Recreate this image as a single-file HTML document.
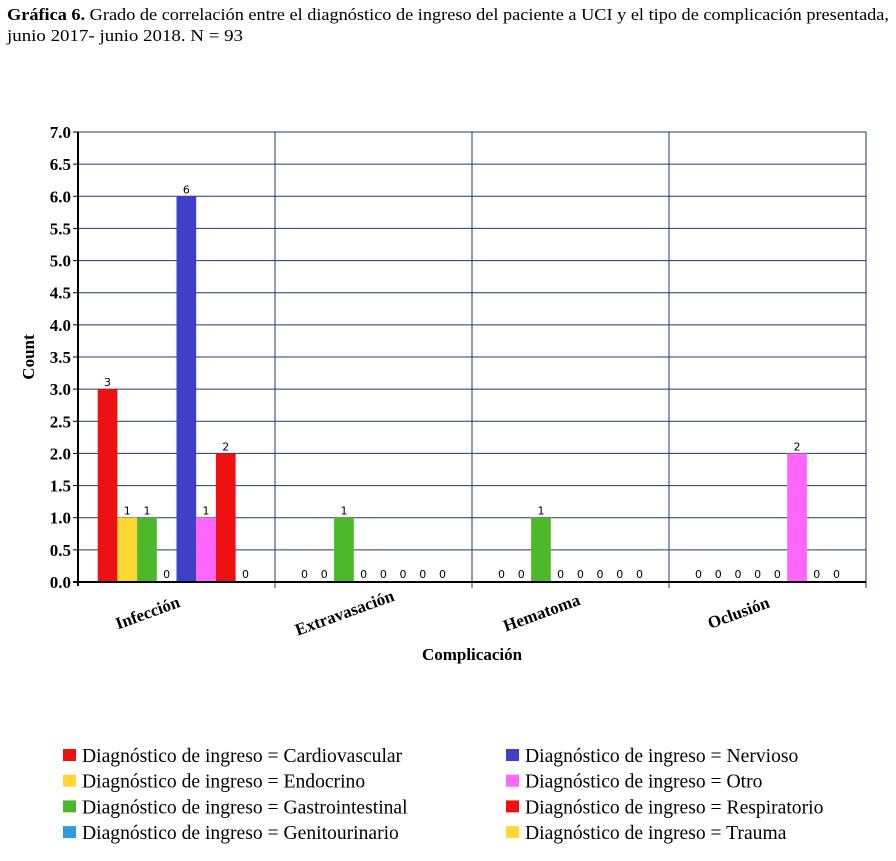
<!DOCTYPE html>
<html><head><meta charset="utf-8"><style>
body{margin:0;background:#fff;}
svg{display:block;font-family:"Liberation Serif",serif;}
</style></head><body>
<svg width="896" height="861" viewBox="0 0 896 861">
<text x="7" y="20" font-size="17" textLength="882" lengthAdjust="spacingAndGlyphs"><tspan font-weight="bold">Gráfica 6.</tspan> Grado de correlación entre el diagnóstico de ingreso del paciente a UCI y el tipo de complicación presentada,</text>
<text x="7" y="41" font-size="17" textLength="236" lengthAdjust="spacingAndGlyphs">junio 2017- junio 2018. N = 93</text>
<g id="plot"></g>
<g id="legend"></g>
</svg>
<script>
const categories=["Infección","Extravasación","Hematoma","Oclusión"];
const seriesNames=["Cardiovascular","Endocrino","Gastrointestinal","Genitourinario","Nervioso","Otro","Respiratorio","Trauma"];
const seriesColors=["#ee1111","#ffd633","#4cb82a","#3399dd","#3f3fc8","#ff66ff","#ee1111","#ffd633"];
const cardiovascular=[3,0,0,0];
const endocrino=[1,0,0,0];
const gastro=[1,1,1,0];
const genito=[0,0,0,0];
const nervioso=[6,0,0,0];
const otro=[1,0,0,2];
const respiratorio=[2,0,0,0];
const trauma=[0,0,0,0];
const yTicks=["0.0","0.5","1.0","1.5","2.0","2.5","3.0","3.5","4.0","4.5","5.0","5.5","6.0","6.5","7.0"];
const series=[cardiovascular,endocrino,gastro,genito,nervioso,otro,respiratorio,trauma];
const NS="http://www.w3.org/2000/svg";
const X0=78,X1=866,Y0=582,Y1=132,YMAX=7;
const y=v=>Y0-(v/YMAX)*(Y0-Y1);
const gw=(X1-X0)/categories.length, bw=gw/10;
const p=document.getElementById('plot');
function mk(t,a,par){const e=document.createElementNS(NS,t);for(const k in a)e.setAttribute(k,a[k]);(par||p).appendChild(e);return e;}
yTicks.forEach(t=>{const v=parseFloat(t),yy=y(v);
 if(v>0){const l=mk('line',{x1:X0,x2:X1,y1:yy,y2:yy,stroke:'#1f3a6a','stroke-width':1});
 
 }
 const tk=mk('line',{x1:X0-5,x2:X0,y1:yy,y2:yy,stroke:'#000'});
 
 
 const tx=mk('text',{x:X0-7,y:yy+6,'text-anchor':'end','font-size':17,'font-weight':'bold'});tx.textContent=t;
 
 });
for(let i=1;i<=categories.length;i++){const xx=X0+i*gw;
 const l=mk('line',{x1:xx,x2:xx,y1:Y1,y2:Y0+6,stroke:'#1f3a6a'});
 
 }
categories.forEach((c,ci)=>{
 series.forEach((s,si)=>{const v=s[ci],bx=X0+ci*gw+bw*(si+1);
  if(v>0){const r=mk('rect',{x:bx,y:y(v),width:bw,height:Y0-y(v),fill:seriesColors[si]});
   
   }
  const lb=mk('text',{x:bx+bw/2,y:v>0?y(v)-3:Y0-4,'text-anchor':'middle','font-size':11,'font-family':'DejaVu Sans, sans-serif'});
  lb.textContent=v;
  
  });
 const cx=X0+ci*gw+gw/2-27;
 const t=mk('text',{x:cx,y:Y0+36,'text-anchor':'middle','font-size':17,'font-weight':'bold',transform:`rotate(-20 ${cx} ${Y0+36})`});
 t.textContent=c;
 
 });
let ax=mk('line',{x1:X0,x2:X0,y1:Y1,y2:Y0+4,stroke:'#000','stroke-width':2});


ax=mk('line',{x1:X0-5,x2:X1,y1:Y0,y2:Y0,stroke:'#000','stroke-width':2});


let yt=mk('text',{x:34,y:357,'text-anchor':'middle','font-size':17,'font-weight':'bold',transform:'rotate(-90 34 357)'});
yt.textContent='Count';


let xt=mk('text',{x:472,y:660,'text-anchor':'middle','font-size':17,'font-weight':'bold'});
xt.textContent='Complicación';


const lg=document.getElementById('legend');
seriesNames.forEach((n,i)=>{const col=i<4?0:1,row=i%4;const lx=col?506:63,ly=749+row*25.7;
 const g=mk('g',{},lg);
 
 
 mk('rect',{x:lx,y:ly,width:13,height:12,fill:seriesColors[i]},g);
 const t=mk('text',{x:lx+19,y:ly+13,'font-size':19.6},g);t.textContent='Diagnóstico de ingreso = '+n;});
</script>
</body></html>
